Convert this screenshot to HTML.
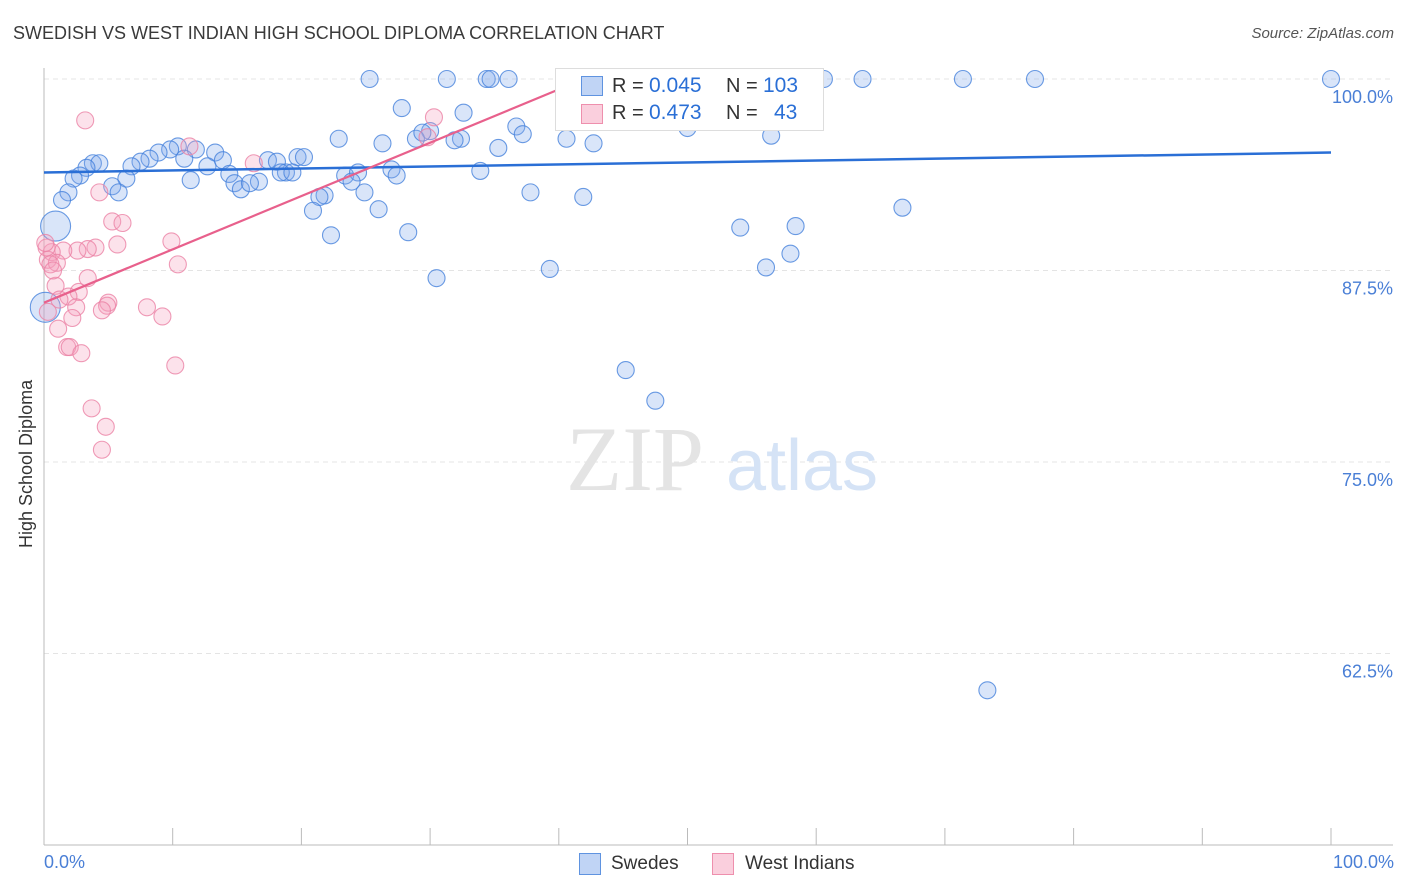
<!DOCTYPE html>
<html><head><meta charset="utf-8"><style>
body{margin:0;background:#fff;font-family:"Liberation Sans",sans-serif;}
#wrap{position:relative;width:1406px;height:892px;overflow:hidden;}
.t{position:absolute;white-space:nowrap;}
</style></head><body>
<div id="wrap">
<div class="t" style="left:13px;top:23px;font-size:18px;color:#3a3a3a;">SWEDISH VS WEST INDIAN HIGH SCHOOL DIPLOMA CORRELATION CHART</div>
<div class="t" style="right:12px;top:25px;font-size:15px;color:#555;font-style:italic;">Source: ZipAtlas.com</div>
<svg id="svg" width="1406" height="892" style="position:absolute;left:0;top:0"></svg>
</div>
<script>
const yTicks=[100,87.5,75,62.5];
const yTickLabels=["100.0%","87.5%","75.0%","62.5%"];
const blueX=[25.3,31.3,34.4,34.7,36.1,41.2,46.9,50.2,53.6,60.6,63.6,71.4,77.0,100,27.8,32.6,36.7,37.2,30.0,28.9,29.4,32.4,31.9,22.9,26.3,40.6,42.7,35.3,50.0,56.5,10.4,9.8,8.9,11.8,13.3,10.9,8.2,7.5,6.8,3.8,4.3,3.3,13.9,12.7,17.4,18.1,19.7,20.2,18.8,18.4,19.3,14.4,23.4,24.4,27.0,27.4,33.9,11.4,6.4,2.8,2.3,5.3,5.8,1.9,14.8,15.3,16.7,16.0,23.9,24.9,21.8,21.4,37.8,41.9,20.9,26.0,66.7,54.1,58.4,22.3,28.3,58.0,56.1,39.3,30.5,45.2,47.5,73.3,1.4];
const blueY=[100,100,100,100,100,100,100,100,100,100,100,100,100,100,98.1,97.8,96.9,96.4,96.6,96.1,96.5,96.1,96.0,96.1,95.8,96.1,95.8,95.5,96.8,96.3,95.6,95.4,95.2,95.4,95.2,94.8,94.8,94.6,94.3,94.5,94.5,94.2,94.7,94.3,94.7,94.6,94.9,94.9,93.9,93.9,93.9,93.8,93.7,93.9,94.1,93.7,94.0,93.4,93.5,93.7,93.5,93.0,92.6,92.6,93.2,92.8,93.3,93.2,93.3,92.6,92.4,92.3,92.6,92.3,91.4,91.5,91.6,90.3,90.4,89.8,90.0,88.6,87.7,87.6,87.0,81.0,79.0,60.1,92.1];
const bigBlueX=[0.9,0.1];
const bigBlueY=[90.4,85.1];
const pinkX=[3.2,11.3,16.3,30.3,29.8,4.3,5.3,6.1,9.9,5.7,4.0,3.4,2.6,1.5,0.6,0.3,1.0,10.4,3.4,0.9,2.7,1.9,5.0,4.9,4.5,2.5,2.2,8.0,9.2,1.1,1.8,2.0,2.9,10.2,3.7,4.8,4.5,0.2,0.5,0.7,1.2,0.3,0.1];
const pinkY=[97.3,95.6,94.5,97.5,96.2,92.6,90.7,90.6,89.4,89.2,89.0,88.9,88.8,88.8,88.7,88.2,88.0,87.9,87.0,86.5,86.1,85.8,85.4,85.2,84.9,85.1,84.4,85.1,84.5,83.7,82.5,82.5,82.1,81.3,78.5,77.3,75.8,89.0,87.9,87.5,85.6,84.8,89.3];
const blueTrend=[93.9,95.2];
const pinkTrend=[85.4,0.348];

const X0=44,X1=1331,YTOP=79,PXPER=15.32;
const sx=v=>X0+(X1-X0)*v/100;
const sy=v=>YTOP+(100-v)*PXPER;
const svg=document.getElementById('svg');
const NS='http://www.w3.org/2000/svg';
function mk(tag,attrs){const e=document.createElementNS(NS,tag);for(const k in attrs)e.setAttribute(k,attrs[k]);svg.appendChild(e);return e;}

yTicks.forEach((v,i)=>{
 const g=mk('line',{x1:44,x2:1393,y1:sy(v),y2:sy(v),stroke:'#e4e4e4','stroke-dasharray':'5,4'});
 
 
 const t=mk('text',{x:1393,y:sy(v)+24,'text-anchor':'end','font-size':18,fill:'#4a7fd6','font-family':'Liberation Sans'});
 t.textContent=yTickLabels[i];
 
 
});
const ax=mk('line',{x1:44,x2:44,y1:68,y2:845,stroke:'#bbb'});


const bx=mk('line',{x1:44,x2:1393,y1:845,y2:845,stroke:'#bbb'});


for(let i=0;i<=10;i++){
 const tk=mk('line',{x1:sx(i*10),x2:sx(i*10),y1:828,y2:845,stroke:'#bbb'});
 
 
}
const w1=mk('text',{x:635,y:490,'text-anchor':'middle','font-size':92,fill:'#e4e4e4','font-family':'Liberation Serif'});
w1.textContent='ZIP';


const w2=mk('text',{x:802,y:490,'text-anchor':'middle','font-size':72,fill:'#d5e3f6','font-family':'Liberation Sans'});
w2.textContent='atlas';



function dot(x,y,r,fill,stroke,name){
 const c=mk('circle',{cx:sx(x),cy:sy(y),r:r,fill:fill,stroke:stroke,'stroke-width':1.1});
 
 
}
blueX.forEach((x,i)=>dot(x,blueY[i],8.5,'rgba(130,170,235,0.3)','rgba(70,130,220,0.8)','swedes-point'));
bigBlueX.forEach((x,i)=>dot(x,bigBlueY[i],15,'rgba(130,170,235,0.3)','rgba(70,130,220,0.8)','swedes-point-large'));
pinkX.forEach((x,i)=>dot(x,pinkY[i],8.5,'rgba(245,160,188,0.3)','rgba(235,130,165,0.8)','west-indians-point'));

const bl=mk('line',{x1:sx(0),y1:sy(blueTrend[0]),x2:sx(100),y2:sy(blueTrend[1]),stroke:'#2a6fd6','stroke-width':2.5});


const pxEnd=Math.min(100,(100-pinkTrend[0])/pinkTrend[1]);
const pl=mk('line',{x1:sx(0),y1:sy(pinkTrend[0]),x2:sx(pxEnd),y2:sy(pinkTrend[0]+pinkTrend[1]*pxEnd),stroke:'#e8608c','stroke-width':2.2});


</script>
<div class="t" style="left:44px;top:852px;font-size:18px;color:#4a7fd6;">0.0%</div>
<div class="t" style="right:12px;top:852px;font-size:18px;color:#4a7fd6;">100.0%</div>
<div class="t" style="left:16px;top:548px;font-size:18px;color:#333;transform:rotate(-90deg);transform-origin:0 0;">High School Diploma</div>
<div style="position:absolute;left:555px;top:68px;width:267px;height:61px;background:#fff;border:1px solid #ddd;font-size:20px;">
 <div style="position:absolute;left:25px;top:7px;width:20px;height:18px;background:rgba(130,170,235,0.5);border:1px solid #5f93e0;"></div>
 <div class="t" style="left:56px;top:6px;color:#333;">R =</div>
 <div class="t" style="left:93px;top:5px;color:#2a6fd6;font-size:21px;">0.045</div>
 <div class="t" style="left:170px;top:6px;color:#333;">N =</div>
 <div class="t" style="left:207px;top:5px;color:#2a6fd6;font-size:21px;">103</div>
 <div style="position:absolute;left:25px;top:35px;width:20px;height:18px;background:rgba(245,160,188,0.5);border:1px solid #ee8fad;"></div>
 <div class="t" style="left:56px;top:33px;color:#333;">R =</div>
 <div class="t" style="left:93px;top:32px;color:#2a6fd6;font-size:21px;">0.473</div>
 <div class="t" style="left:170px;top:33px;color:#333;">N =</div>
 <div class="t" style="left:218px;top:32px;color:#2a6fd6;font-size:21px;">43</div>
</div>
<div style="position:absolute;left:579px;top:853px;width:20px;height:20px;background:rgba(130,170,235,0.5);border:1px solid #5f93e0;"></div>
<div class="t" style="left:611px;top:853px;font-size:19px;color:#333;">Swedes</div>
<div style="position:absolute;left:712px;top:853px;width:20px;height:20px;background:rgba(245,160,188,0.5);border:1px solid #ee8fad;"></div>
<div class="t" style="left:745px;top:853px;font-size:19px;color:#333;">West Indians</div>
</body></html>
